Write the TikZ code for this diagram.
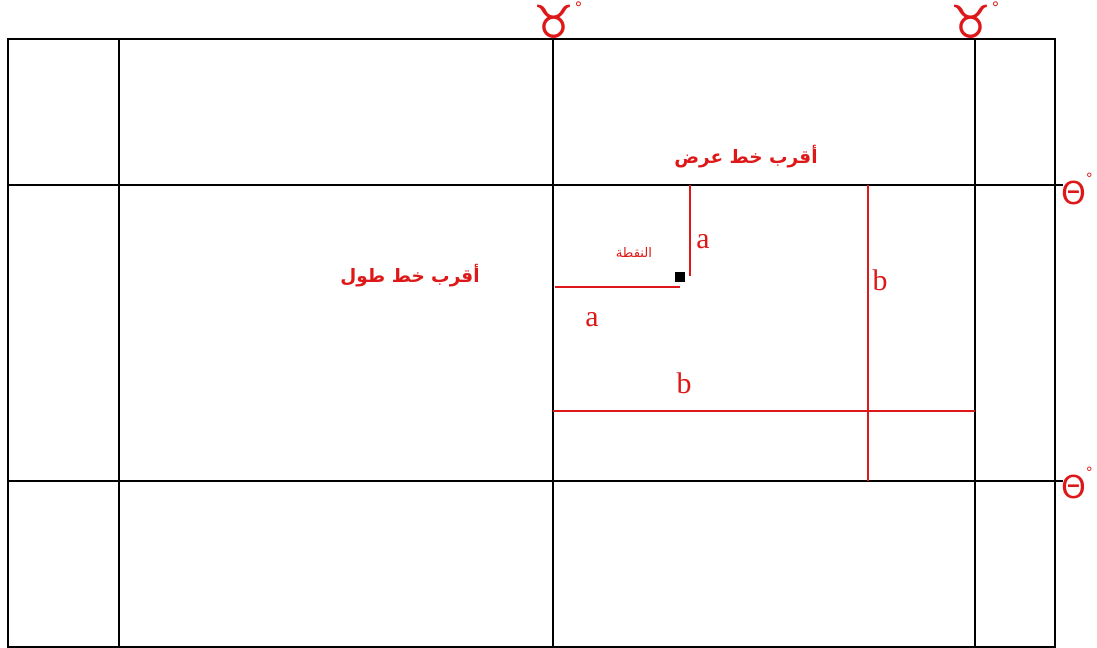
\documentclass[tikz,border=0pt]{standalone}
\usepackage{fontspec}
\setmainfont{Liberation Serif}
\newfontfamily\arabicfont[Script=Arabic]{DejaVu Sans}
\newfontfamily\symfont{DejaVu Sans}
\TeXXeTstate=1
\usetikzlibrary{positioning}
\definecolor{markred}{RGB}{222,24,24}

\begin{document}
\begin{tikzpicture}[
    x=0.02cm, y=-0.02cm,
    gridline/.style={black, line width=0.6pt},
    redline/.style={markred, line width=1.3pt},
    lbl/.style={text=markred, inner sep=0pt, font=\fontsize{17}{17}\selectfont},
    artext/.style={text=markred, inner sep=0pt, font=\arabicfont\bfseries\fontsize{10.5}{10.5}\selectfont},
    sym/.style={text=markred, inner sep=0pt, font=\symfont\fontsize{26}{26}\selectfont}
]
    \useasboundingbox (0,0) rectangle (1097,648);

    % grid of parallels and meridians
    \draw[gridline] (8,39) rectangle (1055,647);
    \foreach \x in {119,553,975}
        \draw[gridline] (\x,39) -- (\x,647);
    \foreach \y in {185,481}
        \draw[gridline] (8,\y) -- (1063,\y);

    % meridian and parallel symbols
    \node[sym] (lonA) at (558,20) {♉\raisebox{1.0ex}{\fontsize{9}{9}\selectfont °}};
    \node[sym] (lonB) at (975,20) {♉\raisebox{1.0ex}{\fontsize{9}{9}\selectfont °}};
    \node[sym, font=\symfont\fontsize{18}{18}\selectfont] (latA) at (1077,189) {Θ\raisebox{1.2ex}{\fontsize{8}{8}\selectfont °}};
    \node[sym, font=\symfont\fontsize{18}{18}\selectfont] (latB) at (1077,483) {Θ\raisebox{1.2ex}{\fontsize{8}{8}\selectfont °}};

    % the point
    \node[fill=black, minimum size=10pt*0.567, inner sep=0pt] (pt) at (680,277) {};
    \node[artext, font=\arabicfont\fontsize{7.5}{7.5}\selectfont] (ptlbl) at (634,252) {\beginR النقطة\endR};

    % distances
    \coordinate (aV1) at (690,185);
    \coordinate (aV2) at (690,276);
    \coordinate (aH1) at (555,287);
    \coordinate (aH2) at (680,287);
    \coordinate (bH1) at (553,411);
    \coordinate (bH2) at (975,411);
    \coordinate (bV1) at (868,185);
    \coordinate (bV2) at (868,481);
    \draw[redline] (aV1) -- (aV2);
    \draw[redline] (aH1) -- (aH2);
    \draw[redline] (bH1) -- (bH2);
    \draw[redline] (bV1) -- (bV2);

    \node[lbl] (aTop)  at (703,242) {a};
    \node[lbl] (aLeft) at (592,320) {a};
    \node[lbl] (bLow)  at (684,383) {b};
    \node[lbl] (bRgt)  at (880,280) {b};

    % nearest lines
    \node[artext] (latTxt) at (746,157) {\beginR أقرب خط عرض\endR};
    \node[artext] (lonTxt) at (410,276) {\beginR أقرب خط طول\endR};
\end{tikzpicture}
\end{document}
